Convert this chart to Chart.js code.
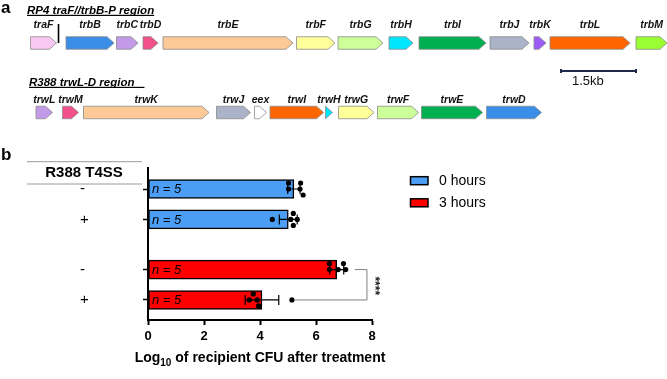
<!DOCTYPE html>
<html>
<head>
<meta charset="utf-8">
<script src="https://cdn.jsdelivr.net/npm/chart.js@4.4.1/dist/chart.umd.min.js"></script>
<style>
  html, body { margin: 0; padding: 0; background: #fff; }
  #wrap { position: relative; width: 667px; height: 379px; overflow: hidden; }
  #geneMap { position: absolute; left: 0; top: 0; }
  #cfuChart { position: absolute; left: 0; top: 130px; }
</style>
</head>
<body>
<div id="wrap">
  <canvas id="geneMap" width="667" height="130"></canvas>
  <canvas id="cfuChart" width="667" height="249"></canvas>
</div>
<script>
// ---- Panel a: gene maps (kb, measured from the start of traF) ----
const rp4Genes = ["traF", "trbB", "trbC", "trbD", "trbE", "trbF", "trbG", "trbH", "trbI", "trbJ", "trbK", "trbL", "trbM"];
const rp4Start = [0.00, 0.71, 1.72, 2.25, 2.65, 5.32, 6.15, 7.17, 7.77, 9.19, 10.07, 10.39, 12.11];
const rp4End   = [0.52, 1.67, 2.15, 2.55, 5.25, 6.09, 7.05, 7.65, 9.11, 9.97, 10.31, 11.99, 12.73];
const rp4Colors = ["#f9c9f4", "#3a8ee8", "#c39ae8", "#f2508a", "#fdc997", "#ffff99", "#ccff99", "#00e6ff", "#00b050", "#aab3c7", "#9b5cf6", "#ff6600", "#99ff33"];

const r388Genes = ["trwL", "trwM", "trwK", "trwJ", "eex", "trwI", "trwH", "trwG", "trwF", "trwE", "trwD"];
const r388Start = [0.11, 0.64, 1.06, 3.72, 4.48, 4.79, 5.90, 6.16, 6.94, 7.82, 9.12];
const r388End   = [0.44, 0.96, 3.57, 4.40, 4.72, 5.86, 6.04, 6.87, 7.76, 9.04, 10.22];
const r388Colors = ["#c39ae8", "#f2508a", "#fdc997", "#aab3c7", "#ffffff", "#ff6600", "#00e6ff", "#ffff99", "#ccff99", "#00b050", "#3a8ee8"];

const mapTitles = ["RP4 traF//trbB-P region", "R388 trwL-D region"];
const scaleBarKb = 1.5;
const scaleBarStart = 10.61;
const breakMarkKb = 0.56;

// ---- Panel b: recipient CFU ----
const t4ssLabels = ["-", "+", "-", "+"];
const timeLabels = ["0 hours", "3 hours"];
const timeOfRow = [0, 0, 1, 1];
const meanLog = [5.21, 5.01, 6.74, 4.07];
const sdLog = [0.22, 0.32, 0.25, 0.60];
const replicateLog = [
  [5.02, 5.02, 5.45, 5.43, 5.54],
  [4.44, 5.10, 5.19, 5.19, 5.33],
  [6.48, 6.48, 6.79, 6.98, 7.06],
  [3.62, 3.76, 3.90, 3.95, 5.14]
];
const xTicks = [0, 2, 4, 6, 8];
const xTitle = ["Log", "10", " of recipient CFU after treatment"];
const sigText = "****";
const sigBracket = { rows: [2, 3], from: [7.39, 5.21], to: 7.82 };

// layout helpers
const rowPos = [1, 2, 3.65, 4.65];
const timeColors = ["#4c9ef5", "#ff0000"];
const FONT = "'Liberation Sans', Arial, sans-serif";

// simple bee-swarm so equal values don't overlap
function swarmOffsets(values) {
  const pxX = 28, pxY = 30.4, dot = 6;
  const order = values.map((v, i) => i).sort((a, b) => values[a] - values[b]);
  const placed = [];
  const offs = values.map(() => 0);
  order.forEach(i => {
    const x = values[i] * pxX;
    for (let k = 0; k < 20; k++) {
      const o = k === 0 ? 0 : (k % 2 ? -1 : 1) * Math.ceil(k / 2) * dot;
      if (placed.every(p => Math.hypot(p.x - x, p.o - o) >= dot)) {
        placed.push({ x, o });
        offs[i] = o / pxY;
        break;
      }
    }
  });
  return offs;
}

// ================= Panel a =================
function geneDataset(names, starts, ends, colors, row) {
  return {
    label: mapTitles[row - 1],
    data: names.map((n, i) => ({ x: [starts[i], ends[i]], y: row })),
    backgroundColor: "rgba(0,0,0,0)",
    borderWidth: 0,
    maxBarThickness: 12.5,
    geneNames: names,
    geneColors: colors
  };
}

const genePlugin = {
  id: "genes",
  afterDatasetsDraw(chart) {
    const ctx = chart.ctx;
    const x = chart.scales.x;
    ctx.save();

    // panel letter
    ctx.fillStyle = "#000";
    ctx.font = "bold 17px " + FONT;
    ctx.textBaseline = "alphabetic";
    ctx.textAlign = "left";
    ctx.fillText("a", 1, 13);

    // region titles, underlined
    const titleY = [10.5, 82.5];
    const titleX = [27, 29];
    ctx.font = "italic bold 11.5px " + FONT;
    ctx.textBaseline = "middle";
    mapTitles.forEach((t, i) => {
      ctx.fillText(t, titleX[i], titleY[i]);
      const w = ctx.measureText(t).width;
      ctx.fillRect(titleX[i], titleY[i] + 4.3, w + (i === 1 ? 10 : 0), 1.2);
    });

    // gene arrows + names
    const labelOffset = [-18, -12.3];
    chart.data.datasets.forEach((ds, di) => {
      const meta = chart.getDatasetMeta(di);
      meta.data.forEach((el, i) => {
        const p = el.getProps(["x", "y", "base", "height"], true);
        const x0 = Math.min(p.base, p.x), x1 = Math.max(p.base, p.x);
        const h = p.height, top = p.y - h / 2, bot = p.y + h / 2;
        const tip = Math.min(7, x1 - x0);
        ctx.beginPath();
        ctx.moveTo(x0, top);
        ctx.lineTo(x1 - tip, top);
        ctx.lineTo(x1, p.y);
        ctx.lineTo(x1 - tip, bot);
        ctx.lineTo(x0, bot);
        ctx.closePath();
        ctx.fillStyle = ds.geneColors[i];
        ctx.fill();
        ctx.strokeStyle = "#8a8a8a";
        ctx.lineWidth = 0.8;
        ctx.stroke();

        ctx.fillStyle = "#111";
        ctx.font = "italic bold 10.5px " + FONT;
        ctx.textAlign = "center";
        ctx.textBaseline = "middle";
        ctx.fillText(ds.geneNames[i], (x0 + x1) / 2, p.y + labelOffset[di]);
      });
    });

    // break mark after traF
    const row1 = chart.getDatasetMeta(0).data[0].y;
    ctx.strokeStyle = "#000";
    ctx.lineWidth = 1.6;
    ctx.beginPath();
    ctx.moveTo(x.getPixelForValue(breakMarkKb), 24);
    ctx.lineTo(x.getPixelForValue(breakMarkKb), row1);
    ctx.stroke();

    // scale bar
    const sx0 = x.getPixelForValue(scaleBarStart);
    const sx1 = x.getPixelForValue(scaleBarStart + scaleBarKb);
    ctx.strokeStyle = "#1f2a4a";
    ctx.lineWidth = 2;
    ctx.beginPath();
    ctx.moveTo(sx0, 71); ctx.lineTo(sx1, 71);
    ctx.moveTo(sx0, 69); ctx.lineTo(sx0, 73);
    ctx.moveTo(sx1, 69); ctx.lineTo(sx1, 73);
    ctx.stroke();
    ctx.fillStyle = "#111";
    ctx.font = "13px " + FONT;
    ctx.textAlign = "left";
    ctx.fillText(scaleBarKb + "kb", sx0 + 11, 81.7);
    ctx.restore();
  }
};

new Chart(document.getElementById("geneMap").getContext("2d"), {
  type: "bar",
  data: {
    datasets: [
      geneDataset(rp4Genes, rp4Start, rp4End, rp4Colors, 1),
      geneDataset(r388Genes, r388Start, r388End, r388Colors, 2)
    ]
  },
  options: {
    indexAxis: "y",
    responsive: false,
    animation: false,
    devicePixelRatio: 1,
    grouped: false,
    layout: { padding: 0 },
    plugins: { legend: { display: false }, tooltip: { enabled: false } },
    scales: {
      x: { type: "linear", display: false, offset: false, min: -0.61, max: 12.73 },
      y: { type: "linear", display: false, offset: false, reverse: true, min: 0.381, max: 2.252 }
    }
  },
  plugins: [genePlugin]
});

// ================= Panel b =================
const dotPoints = replicateLog.flatMap((vals, r) => {
  const offs = swarmOffsets(vals);
  return vals.map((v, j) => ({ x: v, y: rowPos[r] + offs[j] }));
});

const barSets = timeLabels.map((lab, t) => ({
  type: "bar",
  label: lab,
  data: meanLog.map((m, r) => ({ x: m, y: rowPos[r] })).filter((d, r) => timeOfRow[r] === t),
  backgroundColor: timeColors[t],
  borderColor: "#000",
  borderWidth: 1.5,
  borderSkipped: false,
  maxBarThickness: 19,
  order: 1
}));

const cfuPlugin = {
  id: "cfuExtras",
  beforeDatasetDraw(chart, args) {
    if (chart.data.datasets[args.index].type !== "scatter") return;
    // SD error bars, between bars and dots
    const { x, y } = chart.scales;
    const ctx = chart.ctx;
    ctx.save();
    ctx.strokeStyle = "#000";
    ctx.lineWidth = 1.2;
    meanLog.forEach((m, r) => {
      const py = y.getPixelForValue(rowPos[r]);
      const a = x.getPixelForValue(m - sdLog[r]);
      const b = x.getPixelForValue(m + sdLog[r]);
      ctx.beginPath();
      ctx.moveTo(a, py); ctx.lineTo(b, py);
      ctx.moveTo(a, py - 5); ctx.lineTo(a, py + 5);
      ctx.moveTo(b, py - 5); ctx.lineTo(b, py + 5);
      ctx.stroke();
    });
    ctx.restore();
  },
  afterDraw(chart) {
    const { x, y } = chart.scales;
    const ctx = chart.ctx;
    ctx.save();

    // n labels inside bars
    ctx.fillStyle = "#000";
    ctx.font = "italic 13px " + FONT;
    ctx.textAlign = "left";
    ctx.textBaseline = "middle";
    replicateLog.forEach((vals, r) => {
      ctx.fillText("n = " + vals.length, x.getPixelForValue(0) + 4, y.getPixelForValue(rowPos[r]) + 0.5);
    });

    // x axis title with subscript
    const big = "bold 14px " + FONT, small = "bold 10px " + FONT;
    ctx.font = big;
    const w0 = ctx.measureText(xTitle[0]).width, w2 = ctx.measureText(xTitle[2]).width;
    ctx.font = small;
    const w1 = ctx.measureText(xTitle[1]).width;
    let tx = (x.left + x.right) / 2 - (w0 + w1 + w2) / 2;
    const ty = 232;
    ctx.textBaseline = "alphabetic";
    ctx.font = big; ctx.fillText(xTitle[0], tx, ty); tx += w0;
    ctx.font = small; ctx.fillText(xTitle[1], tx, ty + 3.5); tx += w1;
    ctx.font = big; ctx.fillText(xTitle[2], tx, ty);

    // significance bracket
    const [ra, rb] = sigBracket.rows;
    const ya = y.getPixelForValue(rowPos[ra]);
    const yb = y.getPixelForValue(rowPos[rb]);
    const xr = x.getPixelForValue(sigBracket.to);
    ctx.strokeStyle = "#808080";
    ctx.lineWidth = 1;
    ctx.beginPath();
    ctx.moveTo(x.getPixelForValue(sigBracket.from[0]), ya);
    ctx.lineTo(xr, ya);
    ctx.lineTo(xr, yb);
    ctx.lineTo(x.getPixelForValue(sigBracket.from[1]), yb);
    ctx.stroke();
    ctx.save();
    ctx.translate(xr + 7, (ya + yb) / 2 + 1);
    ctx.rotate(Math.PI / 2);
    ctx.fillStyle = "#222";
    ctx.font = "bold 12px " + FONT;
    ctx.textAlign = "center";
    ctx.textBaseline = "middle";
    ctx.fillText(sigText, 0, 0);
    ctx.restore();

    // panel letter
    ctx.fillStyle = "#000";
    ctx.font = "bold 17px " + FONT;
    ctx.textAlign = "left";
    ctx.textBaseline = "alphabetic";
    ctx.fillText("b", 1, 30);

    // header of the +/- column
    ctx.strokeStyle = "#9a9a9a";
    ctx.lineWidth = 1;
    ctx.beginPath();
    ctx.moveTo(27, 31.7); ctx.lineTo(142, 31.7);
    ctx.moveTo(27, 54); ctx.lineTo(142, 54);
    ctx.stroke();
    ctx.fillStyle = "#000";
    ctx.font = "bold 15px " + FONT;
    ctx.textAlign = "center";
    ctx.textBaseline = "middle";
    ctx.fillText("R388 T4SS", 84, 43);

    // legend
    ctx.font = "14px " + FONT;
    ctx.textAlign = "left";
    chart.data.datasets.filter(d => d.type === "bar").forEach((d, i) => {
      const cy = 50.7 + i * 22.1;
      ctx.fillStyle = d.backgroundColor;
      ctx.fillRect(410.5, cy - 4, 17.5, 8);
      ctx.strokeStyle = "#000";
      ctx.lineWidth = 1.5;
      ctx.strokeRect(410.5, cy - 4, 17.5, 8);
      ctx.fillStyle = "#000";
      ctx.fillText(d.label, 439, cy + 0.5);
    });
    ctx.restore();
  }
};

new Chart(document.getElementById("cfuChart").getContext("2d"), {
  type: "bar",
  data: {
    datasets: [
      {
        type: "scatter",
        label: "replicates",
        data: dotPoints,
        pointRadius: 2.6,
        pointBackgroundColor: "#000",
        pointBorderWidth: 0,
        showLine: false,
        order: 0
      },
      ...barSets
    ]
  },
  options: {
    indexAxis: "y",
    responsive: false,
    animation: false,
    devicePixelRatio: 1,
    grouped: false,
    barPercentage: 1,
    categoryPercentage: 1,
    layout: { padding: { left: 80, top: 38, right: 295, bottom: 0 } },
    plugins: { legend: { display: false }, tooltip: { enabled: false } },
    scales: {
      x: {
        type: "linear",
        position: "bottom",
        offset: false,
        min: 0,
        max: 8,
        afterBuildTicks: s => { s.ticks = xTicks.map(v => ({ value: v })); },
        afterFit: s => { s.height = 59; },
        grid: { drawOnChartArea: false, drawTicks: true, tickLength: 5, tickWidth: 2, tickColor: "#000" },
        border: { display: true, color: "#000", width: 2 },
        ticks: { color: "#000", padding: 4, font: { family: FONT, size: 13, weight: "bold" } },
        title: { display: false }
      },
      y: {
        type: "linear",
        position: "left",
        offset: false,
        reverse: true,
        min: 0.309,
        max: 5.309,
        afterBuildTicks: s => { s.ticks = rowPos.map(v => ({ value: v })); },
        afterFit: s => { s.width = 68; },
        grid: { offset: false, drawOnChartArea: false, drawTicks: true, tickLength: 5, tickWidth: 1.5, tickColor: "#000" },
        border: { display: true, color: "#000", width: 2 },
        ticks: {
          color: "#000",
          crossAlign: "far",
          padding: 3,
          font: { family: FONT, size: 15 },
          callback: v => t4ssLabels[rowPos.indexOf(v)]
        }
      }
    }
  },
  plugins: [cfuPlugin]
});
</script>
</body>
</html>
